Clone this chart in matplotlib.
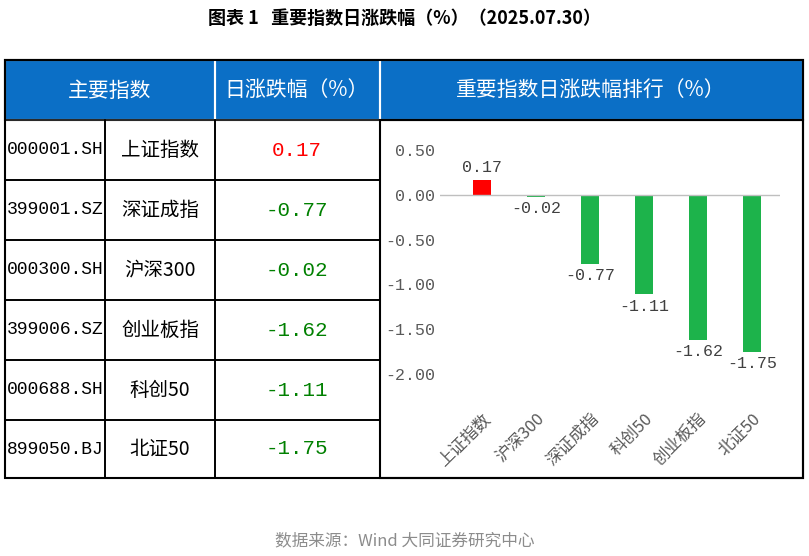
import matplotlib.pyplot as plt
from matplotlib.patches import Rectangle

plt.rcParams['font.family'] = ['Noto Sans CJK SC', 'DejaVu Sans']

codes = ['000001.SH', '399001.SZ', '000300.SH', '399006.SZ', '000688.SH', '899050.BJ']
names = ['上证指数', '深证成指', '沪深300', '创业板指', '科创50', '北证50']
table_vals = [0.17, -0.77, -0.02, -1.62, -1.11, -1.75]

rank_names = ['上证指数', '沪深300', '深证成指', '科创50', '创业板指', '北证50']
rank_vals = [0.17, -0.02, -0.77, -1.11, -1.62, -1.75]

W, H = 809, 556
blue = '#0B6FC6'
red = '#FF0000'
green_bar = '#1DB34B'
green_txt = '#008000'
mono = 'Liberation Mono'

fig = plt.figure(figsize=(W / 100, H / 100), dpi=100)
bg = fig.add_axes([0, 0, 1, 1])
bg.set_xlim(0, W)
bg.set_ylim(H, 0)
bg.axis('off')

fig.text(0.5, 1 - 18 / H, '图表 1   重要指数日涨跌幅（%）（2025.07.30）',
         ha='center', va='center', fontsize=13, fontweight='bold')

# header
bg.add_patch(Rectangle((5, 60), 798, 60, facecolor=blue, edgecolor='black', lw=1.5))
for x0, x1 in [(5, 215), (215, 380), (380, 803)]:
    bg.add_patch(Rectangle((x0, 60), x1 - x0, 60, fill=False, edgecolor='white', lw=1.5))
bg.text(110, 91, '主要指数', color='white', ha='center', va='center', fontsize=15)
bg.text(297, 91, '日涨跌幅（%）', color='white', ha='center', va='center', fontsize=15)
bg.text(591, 91, '重要指数日涨跌幅排行（%）', color='white', ha='center', va='center', fontsize=15)

# body rows
row_h = 60
for i, (c, n, v) in enumerate(zip(codes, names, table_vals)):
    y0 = 120 + i * row_h
    h = row_h if i < 5 else 58
    for x0, x1 in [(5, 105), (105, 215), (215, 380)]:
        bg.add_patch(Rectangle((x0, y0), x1 - x0, h, fill=False, edgecolor='black', lw=1.2))
    yc = y0 + h / 2
    bg.text(55, yc, c, ha='center', va='center', fontsize=13, family=mono)
    bg.text(160, yc, n, ha='center', va='center', fontsize=14)
    bg.text(297, yc, f'{v:.2f}', ha='center', va='center', fontsize=15,
            color=red if v > 0 else green_txt, family=mono)
bg.add_patch(Rectangle((380, 120), 423, 358, fill=False, edgecolor='black', lw=1.5))
bg.add_patch(Rectangle((5, 60), 798, 418, fill=False, edgecolor='black', lw=1.5))

fig.text(0.5, 1 - 541 / H, '数据来源：Wind 大同证券研究中心', ha='center', va='center',
         fontsize=12, color='#8C8C8C')

# rank chart
ax = fig.add_axes([440 / W, 1 - 374 / H, 340 / W, 224 / H])
ax.patch.set_alpha(0)
x = range(len(rank_vals))
cols = [red if v > 0 else green_bar for v in rank_vals]
ax.bar(x, rank_vals, width=0.33, color=cols)
ax.axhline(0, color='#BFBFBF', lw=1)
ax.set_xlim(-0.78, 5.52)
ax.set_ylim(-2.0, 0.5)
ax.set_yticks([0.5, 0, -0.5, -1.0, -1.5, -2.0])
ax.set_yticklabels([f'{t:.2f}' for t in [0.5, 0, -0.5, -1.0, -1.5, -2.0]],
                   family=mono, fontsize=12, color='#595959')
for s in ax.spines.values():
    s.set_visible(False)
ax.tick_params(length=0)
ax.set_xticks(list(x))
ax.set_xticklabels(rank_names, rotation=45, ha='right', rotation_mode='anchor',
                   fontsize=12, color='#595959')
ax.tick_params(axis='x', pad=26)
for i, v in enumerate(rank_vals):
    off = 0.05 if v > 0 else -0.05
    ax.text(i, v + off, f'{v:.2f}', ha='center', va='bottom' if v > 0 else 'top',
            family=mono, fontsize=12, color='#404040')

fig.savefig('out.png', dpi=100)
